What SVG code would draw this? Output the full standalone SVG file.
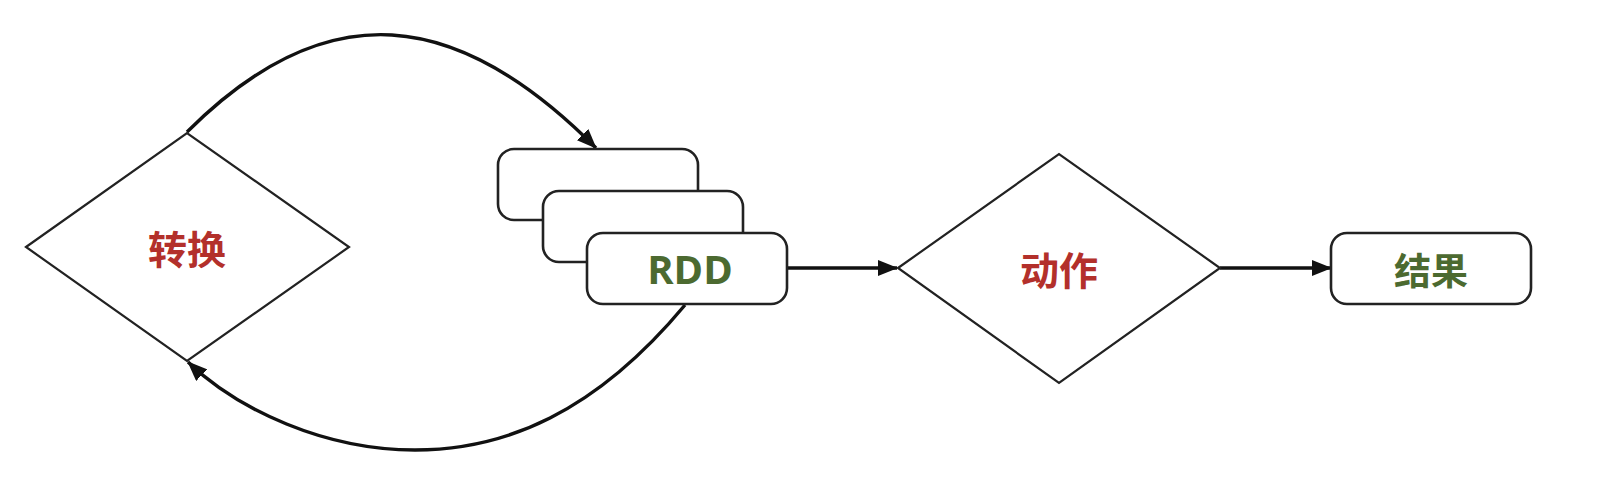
<svg xmlns="http://www.w3.org/2000/svg" width="1598" height="484" viewBox="0 0 1598 484">
<style>
.shape{fill:#fff;stroke:#222;stroke-width:2.2}
.box{fill:#fff;stroke:#222;stroke-width:2.6}
.conn{fill:none;stroke:#111;stroke-width:3.4}
.red{font-family:"Noto Sans CJK SC","Noto Sans",sans-serif;font-weight:bold;font-size:39px;fill:#b3302b;text-anchor:middle;dominant-baseline:central}
.green{font-family:"Noto Sans CJK SC","Noto Sans",sans-serif;font-weight:bold;font-size:37px;fill:#4c6a30;text-anchor:middle;dominant-baseline:central}
.latin{font-family:"Open Sans","Liberation Sans",sans-serif;font-weight:bold;font-size:40px;fill:#4c6a30;text-anchor:middle;dominant-baseline:central}
</style>
<defs>
<marker id="arr" viewBox="0 0 20 16" refX="19" refY="8" markerWidth="20" markerHeight="16" markerUnits="userSpaceOnUse" orient="auto">
<path d="M0,0 L20,8 L0,16 Z" fill="#111"/>
</marker>
</defs>
<rect width="1598" height="484" fill="#fff"/>
<g id="connectors">
<path class="conn" d="M187,132 C327,-8 457,8 596,148" marker-end="url(#arr)"/>
<path class="conn" d="M685,305 C595,413 505,450 415,450 C325,450 238,410 188,362" marker-end="url(#arr)"/>
<path class="conn" d="M787,268 L897,268" marker-end="url(#arr)"/>
<path class="conn" d="M1220,268 L1331,268" marker-end="url(#arr)"/>
</g>
<g id="transform">
<polygon class="shape" points="26,247 187,133 349,247 187,361"/>
<text class="red" x="187" y="247">转换</text>
</g>
<g id="rdd-stack">
<rect class="box" x="498" y="149" width="200" height="71" rx="16"/>
<rect class="box" x="543" y="191" width="200" height="71" rx="16"/>
<rect class="box" x="587" y="233" width="200" height="71" rx="16"/>
<text class="latin" x="690" y="268">RDD</text>
</g>
<g id="action">
<polygon class="shape" points="898,268 1059,154 1220,268 1059,383"/>
<text class="red" x="1059" y="268">动作</text>
</g>
<g id="result">
<rect class="box" x="1331" y="233" width="200" height="71" rx="16"/>
<text class="green" x="1431" y="269">结果</text>
</g>
</svg>
